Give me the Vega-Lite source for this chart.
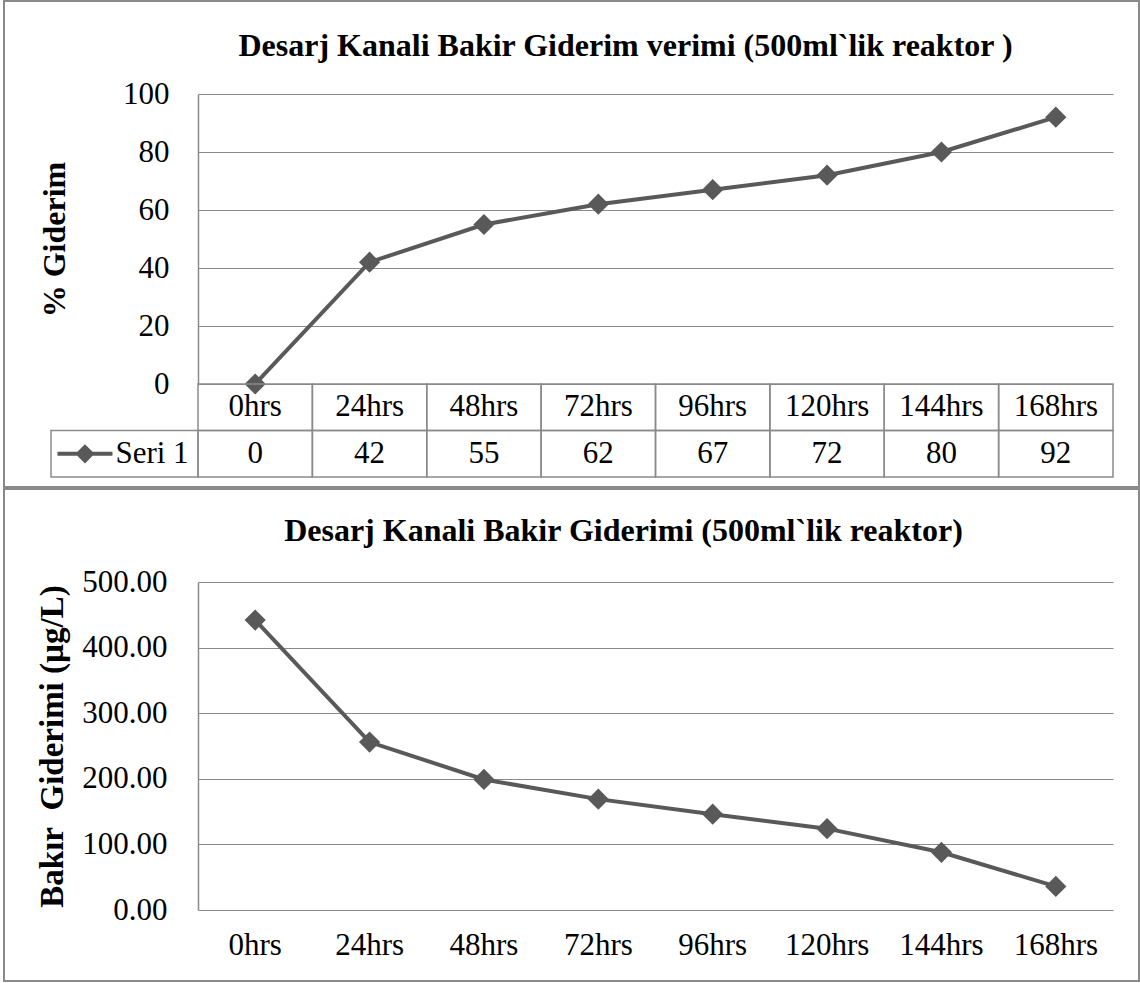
{
  "$schema": "https://vega.github.io/schema/vega-lite/v6.json",
  "padding": {"left": 3, "top": 0, "right": 0, "bottom": 1},
  "background": "white",
  "spacing": 0,
  "config": {
    "font": "Liberation Serif",
    "view": {"stroke": null},
    "axis": {"labelFont": "Liberation Serif", "titleFont": "Liberation Serif", "labelColor": "black", "titleColor": "black"},
    "text": {"font": "Liberation Serif", "color": "black"}
  },
  "datasets": {
    "main": [
      {"time": "0hrs", "pct": 0, "conc": 442},
      {"time": "24hrs", "pct": 42, "conc": 256},
      {"time": "48hrs", "pct": 55, "conc": 199},
      {"time": "72hrs", "pct": 62, "conc": 169},
      {"time": "96hrs", "pct": 67, "conc": 146},
      {"time": "120hrs", "pct": 72, "conc": 124},
      {"time": "144hrs", "pct": 80, "conc": 88},
      {"time": "168hrs", "pct": 92, "conc": 36}
    ],
    "legend": [{"series": "Seri 1"}]
  },
  "vconcat": [
    {
      "width": 1135,
      "height": 486,
      "view": {"stroke": "#8a8a8a", "strokeWidth": 2},
      "title": {"text": "Desarj Kanali Bakir Giderim verimi (500ml`lik reaktor )", "font": "Liberation Serif", "fontSize": 32, "fontWeight": "bold", "color": "black", "anchor": "middle", "frame": "group", "offset": 0, "baseline": "alphabetic", "dx": 54, "dy": 87},
      "resolve": {"scale": {"x": "independent", "y": "independent"}},
      "layer": [
        {
          "data": {"name": "main"},
          "encoding": {
            "x": {"field": "time", "type": "nominal", "sort": null, "scale": {"type": "band", "domain": ["0hrs", "24hrs", "48hrs", "72hrs", "96hrs", "120hrs", "144hrs", "168hrs"], "range": [194, 1109], "paddingInner": 0, "paddingOuter": 0}, "axis": null},
            "y": {"field": "pct", "type": "quantitative", "scale": {"domain": [0, 100], "range": [383, 93], "nice": false}, "axis": {"values": [0, 20, 40, 60, 80, 100], "offset": -194, "grid": true, "gridColor": "#8a8a8a", "gridWidth": 1, "domainColor": "#8a8a8a", "domainWidth": 1.5, "ticks": false, "labelFontSize": 31, "labelPadding": 29, "title": "% Giderim", "titleFontSize": 32, "titleFontWeight": "bold", "titlePadding": 51}}
          },
          "layer": [
            {"mark": {"type": "line", "color": "#595959", "strokeWidth": 4}},
            {"mark": {"type": "point", "shape": "diamond", "filled": true, "size": 450, "color": "#595959", "opacity": 1}}
          ]
        },
        {
          "data": {"name": "main"},
          "encoding": {
            "x": {"field": "time", "type": "nominal", "sort": null, "scale": {"type": "band", "domain": ["0hrs", "24hrs", "48hrs", "72hrs", "96hrs", "120hrs", "144hrs", "168hrs"], "range": [194, 1109], "paddingInner": 0, "paddingOuter": 0}, "axis": null}
          },
          "layer": [
            {"mark": {"type": "rect", "fill": "transparent", "stroke": "#8a8a8a", "strokeWidth": 1.5}, "encoding": {"y": {"datum": "cat", "type": "nominal", "scale": {"type": "band", "domain": ["cat", "val"], "range": [383, 476], "paddingInner": 0, "paddingOuter": 0}, "axis": null}}},
            {"mark": {"type": "rect", "fill": "transparent", "stroke": "#8a8a8a", "strokeWidth": 1.5}, "encoding": {"y": {"datum": "val", "type": "nominal"}}},
            {"mark": {"type": "text", "fontSize": 31, "baseline": "middle"}, "encoding": {"y": {"datum": "cat", "type": "nominal"}, "text": {"field": "time", "type": "nominal"}}},
            {"mark": {"type": "text", "fontSize": 31, "baseline": "middle"}, "encoding": {"y": {"datum": "val", "type": "nominal"}, "text": {"field": "pct", "type": "quantitative"}}}
          ]
        },
        {
          "data": {"name": "legend"},
          "encoding": {
            "x": {"field": "series", "type": "nominal", "scale": {"type": "band", "range": [47, 194], "paddingInner": 0, "paddingOuter": 0}, "axis": null},
            "y": {"datum": "val", "type": "nominal", "scale": {"type": "band", "domain": ["cat", "val"], "range": [383, 476], "paddingInner": 0, "paddingOuter": 0}, "axis": null}
          },
          "layer": [
            {"mark": {"type": "rect", "fill": "transparent", "stroke": "#8a8a8a", "strokeWidth": 1.5}},
            {"mark": {"type": "point", "shape": "M-1,-0.075L1,-0.075L1,0.075L-1,0.075Z M0,-0.35L0.35,0L0,0.35L-0.35,0Z", "filled": true, "size": 3025, "color": "#595959", "opacity": 1}, "encoding": {"x": {"field": "series", "type": "nominal", "bandPosition": 0.231}}},
            {"mark": {"type": "text", "fontSize": 31, "baseline": "middle"}, "encoding": {"x": {"field": "series", "type": "nominal", "bandPosition": 0.687}, "text": {"field": "series", "type": "nominal"}}}
          ]
        }
      ]
    },
    {
      "width": 1135,
      "height": 492,
      "view": {"stroke": "#8a8a8a", "strokeWidth": 2},
      "title": {"text": "Desarj Kanali Bakir Giderimi (500ml`lik reaktor)", "font": "Liberation Serif", "fontSize": 32, "fontWeight": "bold", "color": "black", "anchor": "middle", "frame": "group", "offset": 0, "baseline": "alphabetic", "dx": 52, "dy": 84},
      "data": {"name": "main"},
      "encoding": {
        "x": {"field": "time", "type": "nominal", "sort": null, "scale": {"type": "band", "domain": ["0hrs", "24hrs", "48hrs", "72hrs", "96hrs", "120hrs", "144hrs", "168hrs"], "range": [194, 1109], "paddingInner": 0, "paddingOuter": 0}, "axis": {"offset": -71, "domain": false, "ticks": false, "grid": false, "labelFontSize": 31, "labelPadding": 20, "labelAngle": 0, "title": null}},
        "y": {"field": "conc", "type": "quantitative", "scale": {"domain": [0, 500], "range": [421, 93], "nice": false}, "axis": {"values": [0, 100, 200, 300, 400, 500], "format": ".2f", "offset": -194, "grid": true, "gridColor": "#8a8a8a", "gridWidth": 1, "domainColor": "#8a8a8a", "domainWidth": 1.5, "ticks": false, "labelFontSize": 31, "labelPadding": 31, "title": "Bakır\u00a0 Giderimi (µg/L)", "titleFontSize": 33, "titleFontWeight": "bold", "titlePadding": 12}}
      },
      "layer": [
        {"mark": {"type": "line", "color": "#595959", "strokeWidth": 4}},
        {"mark": {"type": "point", "shape": "diamond", "filled": true, "size": 450, "color": "#595959", "opacity": 1}}
      ]
    }
  ]
}
